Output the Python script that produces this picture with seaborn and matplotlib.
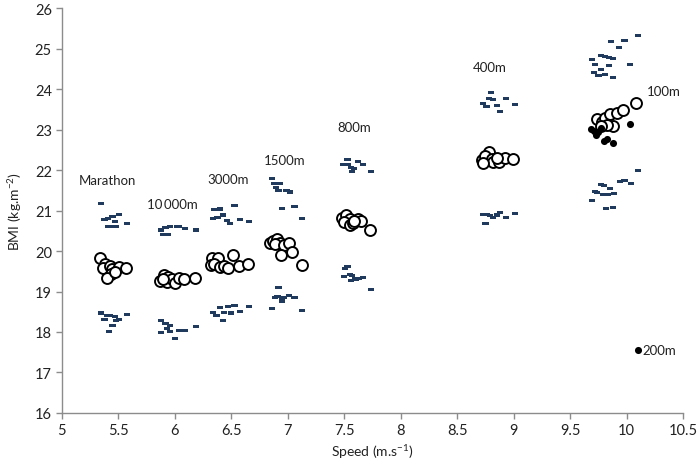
import numpy as np
import pandas as pd
import matplotlib
matplotlib.use("Agg")
import matplotlib.pyplot as plt
import seaborn as sns
from matplotlib.path import Path

# ---------------- data ----------------
marathon_dash_x = [5.35, 5.38, 5.41, 5.45, 5.51, 5.47, 5.41, 5.45, 5.48, 5.58,
                   5.35, 5.40, 5.43, 5.47, 5.51, 5.58, 5.38, 5.45, 5.42, 5.48]
marathon_dash_y = [21.18, 20.79, 20.81, 20.85, 20.91, 20.73, 20.61, 20.61, 20.61, 20.69,
                   18.47, 18.40, 18.40, 18.38, 18.30, 18.44, 18.30, 18.16, 18.01, 18.28]
marathon_circ_x = [5.34, 5.38, 5.37, 5.43, 5.45, 5.51, 5.57, 5.44, 5.40, 5.47]
marathon_circ_y = [19.82, 19.68, 19.57, 19.62, 19.56, 19.60, 19.57, 19.43, 19.33, 19.47]

m10000_dash_x = [5.88, 5.92, 5.96, 6.02, 6.09, 6.19, 5.90, 5.94, 6.04,
                 5.88, 5.92, 5.96, 5.88, 5.96, 6.04, 6.09, 6.19, 6.00, 5.93]
m10000_dash_y = [20.52, 20.59, 20.61, 20.61, 20.56, 20.52, 20.40, 20.40, 20.61,
                 18.28, 18.20, 18.16, 17.99, 18.01, 18.03, 18.03, 18.14, 17.84, 18.09]
m10000_circ_x = [5.87, 5.91, 5.94, 5.93, 5.98, 6.00, 6.04, 6.08, 6.18, 5.90]
m10000_circ_y = [19.27, 19.41, 19.35, 19.24, 19.31, 19.21, 19.33, 19.31, 19.33, 19.31]

m3000_dash_x = [6.35, 6.40, 6.53, 6.34, 6.38, 6.43, 6.46, 6.49, 6.58, 6.66,
                6.34, 6.40, 6.47, 6.53, 6.66, 6.37, 6.44, 6.50, 6.58, 6.43]
m3000_dash_y = [21.02, 21.04, 21.12, 20.81, 20.83, 20.89, 20.75, 20.69, 20.77, 20.73,
                18.49, 18.61, 18.63, 18.65, 18.63, 18.40, 18.49, 18.47, 18.50, 18.28]
m3000_circ_x = [6.33, 6.38, 6.32, 6.35, 6.40, 6.44, 6.47, 6.52, 6.57, 6.65]
m3000_circ_y = [19.82, 19.84, 19.65, 19.68, 19.60, 19.62, 19.57, 19.90, 19.64, 19.68]

m1500_dash_x = [6.86, 6.88, 6.93, 6.90, 6.92, 6.99, 7.02, 6.95, 7.06, 7.13,
                6.92, 6.89, 6.91, 6.95, 6.97, 7.01, 7.06, 6.95, 6.86, 7.13]
m1500_dash_y = [21.80, 21.68, 21.68, 21.57, 21.49, 21.49, 21.46, 21.05, 21.10, 20.81,
                19.10, 18.86, 18.88, 18.81, 18.86, 18.90, 18.86, 18.76, 18.57, 18.53]
m1500_circ_x = [6.84, 6.87, 6.91, 6.93, 6.89, 6.97, 7.01, 6.94, 7.04, 7.13]
m1500_circ_y = [20.21, 20.25, 20.30, 20.21, 20.17, 20.15, 20.20, 19.90, 19.97, 19.66]

m800_dash_x = [7.53, 7.49, 7.53, 7.56, 7.59, 7.57, 7.62, 7.67, 7.74,
               7.53, 7.51, 7.50, 7.55, 7.57, 7.56, 7.60, 7.63, 7.67, 7.74]
m800_dash_y = [22.27, 22.15, 22.15, 22.07, 22.04, 21.96, 22.21, 22.15, 21.97,
               19.62, 19.56, 19.38, 19.41, 19.39, 19.27, 19.31, 19.33, 19.35, 19.04]
m800_circ_x = [7.48, 7.52, 7.55, 7.50, 7.55, 7.58, 7.62, 7.65, 7.59, 7.73]
m800_circ_y = [20.81, 20.89, 20.79, 20.72, 20.64, 20.69, 20.79, 20.75, 20.75, 20.53]

m400_dash_x = [8.80, 8.78, 8.82, 8.93, 8.73, 8.76, 8.85, 9.01, 8.88,
               8.73, 8.76, 8.79, 8.82, 8.85, 8.88, 8.93, 9.01, 8.75]
m400_dash_y = [23.92, 23.78, 23.74, 23.78, 23.65, 23.58, 23.60, 23.63, 23.45,
               20.90, 20.91, 20.87, 20.83, 20.89, 20.96, 20.83, 20.93, 20.68]
m400_circ_x = [8.72, 8.78, 8.75, 8.81, 8.82, 8.73, 8.87, 8.92, 8.99, 8.85]
m400_circ_y = [22.25, 22.44, 22.35, 22.27, 22.19, 22.17, 22.19, 22.30, 22.27, 22.31]

m100_dash_x = [9.69, 9.72, 9.71, 9.75, 9.77, 9.77, 9.81, 9.81, 9.84, 9.84, 9.88, 9.88,
               9.86, 9.93, 9.98, 10.03, 10.10,
               10.10, 9.94, 9.98, 10.04, 9.77, 9.80, 9.85, 9.74, 9.79, 9.83, 9.89,
               9.69, 9.82, 9.88, 9.72]
m100_dash_y = [24.74, 24.62, 24.41, 24.33, 24.84, 24.48, 24.81, 24.37, 24.78, 24.58, 24.76, 24.29,
               25.17, 25.03, 25.21, 24.62, 25.33,
               21.98, 21.72, 21.75, 21.67, 21.65, 21.61, 21.55, 21.45, 21.40, 21.39, 21.42,
               21.26, 21.06, 21.07, 21.48]
m100_circ_x = [9.74, 9.78, 9.81, 9.85, 9.91, 9.97, 10.08, 9.88, 9.83, 9.77]
m100_circ_y = [23.26, 23.19, 23.28, 23.38, 23.41, 23.49, 23.67, 23.09, 23.11, 23.08]

m200_dot_x = [9.68, 9.71, 9.73, 9.77, 9.80, 9.83, 9.88, 10.03, 9.75]
m200_dot_y = [23.01, 22.97, 22.86, 23.04, 22.72, 22.78, 22.67, 23.13, 22.93]

event_labels = ["Marathon", "10\u2009000m", "3000m", "1500m", "800m", "400m", "100m"]
event_label_x = [5.41, 5.98, 6.47, 6.97, 7.59, 8.79, 10.33]
event_label_y = [21.75, 21.16, 21.78, 22.25, 23.06, 24.54, 23.95]

legend_x, legend_y, legend_text = 10.10, 17.55, "200m"

x_ticks = [5, 5.5, 6, 6.5, 7, 7.5, 8, 8.5, 9, 9.5, 10, 10.5]
y_ticks = [16, 17, 18, 19, 20, 21, 22, 23, 24, 25, 26]

# ---------------- build tables ----------------
dash_df = pd.DataFrame({
    "speed": np.concatenate([marathon_dash_x, m10000_dash_x, m3000_dash_x, m1500_dash_x,
                             m800_dash_x, m400_dash_x, m100_dash_x]),
    "bmi": np.concatenate([marathon_dash_y, m10000_dash_y, m3000_dash_y, m1500_dash_y,
                           m800_dash_y, m400_dash_y, m100_dash_y]),
})
circ_df = pd.DataFrame({
    "speed": np.concatenate([marathon_circ_x, m10000_circ_x, m3000_circ_x, m1500_circ_x,
                             m800_circ_x, m400_circ_x, m100_circ_x]),
    "bmi": np.concatenate([marathon_circ_y, m10000_circ_y, m3000_circ_y, m1500_circ_y,
                           m800_circ_y, m400_circ_y, m100_circ_y]),
})
dot_df = pd.DataFrame({"speed": m200_dot_x, "bmi": m200_dot_y})

# ---------------- plot ----------------
sns.set_theme(style="white")
plt.rcParams["font.family"] = ["Lato", "DejaVu Sans"]
plt.rcParams["mathtext.default"] = "regular"

fig = plt.figure(figsize=(7.0, 4.64), dpi=100)
ax = fig.add_axes([0.088, 0.108, 0.888, 0.872])

rect = Path([(-1.0, -0.5), (1.0, -0.5), (1.0, 0.5), (-1.0, 0.5), (-1.0, -0.5)],
            [Path.MOVETO, Path.LINETO, Path.LINETO, Path.LINETO, Path.CLOSEPOLY])

sns.scatterplot(data=dash_df, x="speed", y="bmi", marker=rect, s=20,
                color="#1f3a5c", edgecolor="none", linewidth=0, ax=ax, zorder=2)
sns.scatterplot(data=circ_df, x="speed", y="bmi", marker="o", s=62,
                facecolor="white", edgecolor="black", linewidth=1.4, ax=ax, zorder=3)
sns.scatterplot(data=dot_df, x="speed", y="bmi", marker="o", s=26,
                color="black", edgecolor="black", linewidth=0, ax=ax, zorder=4)
sns.scatterplot(x=[legend_x], y=[legend_y], marker="o", s=26,
                color="black", edgecolor="black", linewidth=0, ax=ax, zorder=4)
ax.text(legend_x + 0.04, legend_y, legend_text, fontsize=9.5, ha="left", va="center",
        color="#222222")

for lab, lx, ly in zip(event_labels, event_label_x, event_label_y):
    ax.text(lx, ly, lab, fontsize=9.5, ha="center", va="center", color="#222222")

ax.set_xlim(5, 10.5)
ax.set_ylim(16, 26)
ax.set_xticks(x_ticks)
ax.set_xticklabels([f"{t:g}" for t in x_ticks])
ax.set_yticks(y_ticks)
ax.set_yticklabels([str(t) for t in y_ticks])

ax.set_xlabel("Speed (m.s$^{-1}$)", fontsize=10, color="#222222", labelpad=4)
ax.set_ylabel("BMI (kg.m$^{-2}$)", fontsize=10, color="#222222", labelpad=8)

for side in ["top", "right"]:
    ax.spines[side].set_visible(False)
for side in ["left", "bottom"]:
    ax.spines[side].set_color("#8c8c8c")
    ax.spines[side].set_linewidth(1.0)
ax.tick_params(axis="both", which="major", direction="out", length=4, width=1,
               color="#8c8c8c", labelsize=10.5, labelcolor="#222222", pad=3)
ax.tick_params(axis="x", bottom=True)
ax.tick_params(axis="y", left=True)
ax.grid(False)

fig.savefig("out.png", dpi=100)
